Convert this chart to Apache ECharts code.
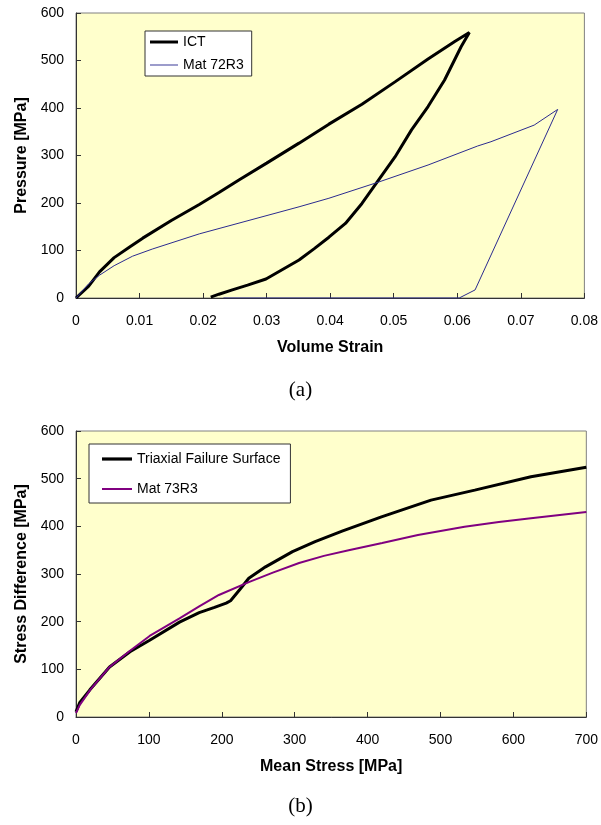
<!DOCTYPE html>
<html>
<head>
<meta charset="utf-8">
<script src="https://cdn.jsdelivr.net/npm/echarts@6/dist/echarts.min.js"></script>
<style>
html,body{margin:0;padding:0;background:#fff;}
#chart{width:601px;height:825px;}
</style>
</head>
<body>
<div id="chart"></div>
<script>
// ---- Chart (a): Pressure vs Volume Strain ----
var ictStrain   = [0, 0.002, 0.0037, 0.006, 0.0085, 0.0105, 0.015, 0.0194, 0.0225, 0.0257, 0.030, 0.0351, 0.0398, 0.045, 0.0502, 0.0554, 0.0596, 0.0619,
                   0.0606, 0.0580, 0.0554, 0.0528, 0.0502, 0.0476, 0.0450, 0.0424, 0.0398, 0.0375, 0.0351, 0.0325, 0.0299, 0.0270, 0.0246, 0.0225, 0.0212];
var ictPressure = [0, 25, 55, 85, 108, 126, 163, 197, 222, 249, 284, 326, 366, 408, 455, 503, 540, 559,
                   529, 459, 403, 354, 297, 248, 199, 157, 128, 104, 80, 60, 40, 27, 17, 8, 2];
var mat72Strain   = [0, 0.002, 0.0037, 0.006, 0.0089, 0.012, 0.0194, 0.0351, 0.0398, 0.0476, 0.0554, 0.0632, 0.0653, 0.0721, 0.0758, 0.0628, 0.0603, 0.0232];
var mat72Pressure = [0, 30, 48, 68, 88, 103, 135, 192, 210, 244, 280, 320, 329, 364, 397, 17, 0, 0];
var xTicksA = [0, 0.01, 0.02, 0.03, 0.04, 0.05, 0.06, 0.07, 0.08];
var yTicksA = [0, 100, 200, 300, 400, 500, 600];

// ---- Chart (b): Stress Difference vs Mean Stress ----
var triaxMean = [0, 5, 19, 46, 74, 101, 142, 169, 190, 206, 212, 225, 237, 260, 297, 328, 365, 419, 487, 547, 624, 700];
var triaxDiff = [11, 30, 57, 105, 137, 161, 199, 219, 230, 239, 244, 268, 291, 315, 347, 368, 390, 420, 455, 476, 504, 524];
var mat73Mean = [0, 5, 20, 46, 75, 101, 142, 169, 196, 237, 270, 306, 340, 374, 420, 469, 533, 580, 624, 700];
var mat73Diff = [8, 25, 58, 105, 140, 170, 207, 232, 256, 283, 303, 323, 338, 350, 365, 382, 399, 409, 417, 430];
var xTicksB = [0, 100, 200, 300, 400, 500, 600, 700];
var yTicksB = [0, 100, 200, 300, 400, 500, 600];

function pairs(xs, ys){ return xs.map(function(x,i){ return [x, ys[i]]; }); }

var FONT = 'Liberation Sans, Arial, sans-serif';
var axisLabelStyle = {color:'#000', fontFamily:FONT, fontSize:14};
var nameStyle = {color:'#000', fontFamily:FONT, fontSize:16, fontWeight:'bold'};

function xAxis(grid, min, max, interval, name, fmt){
  return {type:'value', gridIndex:grid, min:min, max:max, interval:interval,
    name:name, nameLocation:'middle', nameGap:42, nameTextStyle:nameStyle,
    axisLine:{show:true, onZero:false, lineStyle:{color:'#333', width:1}},
    axisTick:{show:true, inside:true, length:5, lineStyle:{color:'#333'}},
    axisLabel:Object.assign({margin:16, formatter:fmt}, axisLabelStyle),
    splitLine:{show:false}};
}
function yAxis(grid, min, max, interval, name){
  return {type:'value', gridIndex:grid, min:min, max:max, interval:interval,
    name:name, nameLocation:'middle', nameGap:46, nameRotate:90, nameTextStyle:nameStyle,
    axisLine:{show:true, onZero:false, lineStyle:{color:'#333', width:1}},
    axisTick:{show:true, inside:true, length:5, lineStyle:{color:'#333'}},
    axisLabel:Object.assign({margin:12}, axisLabelStyle),
    splitLine:{show:false}};
}
var thickIcon = 'path://M0,0L30,0L30,3.2L0,3.2Z';
var midIcon   = 'path://M0,0L30,0L30,2L0,2Z';
var thinIcon  = 'path://M0,0L30,0L30,1L0,1Z';

var chart = echarts.init(document.getElementById('chart'), null, {renderer:'canvas'});
chart.setOption({
  animation:false,
  backgroundColor:'#fff',
  grid:[
    {left:76, top:13, width:511, height:285, show:true, backgroundColor:'#FFFFCC', borderColor:'#808080', borderWidth:1},
    {left:76, top:431, width:513, height:286, show:true, backgroundColor:'#FFFFCC', borderColor:'#808080', borderWidth:1}
  ],
  xAxis:[
    xAxis(0, xTicksA[0], xTicksA[xTicksA.length-1], 0.01, 'Volume Strain', function(v){ return v===0 ? '0' : v.toFixed(2); }),
    xAxis(1, xTicksB[0], xTicksB[xTicksB.length-1], 100, 'Mean Stress [MPa]', function(v){ return String(v); })
  ],
  yAxis:[
    yAxis(0, yTicksA[0], yTicksA[yTicksA.length-1], 100, 'Pressure [MPa]'),
    yAxis(1, yTicksB[0], yTicksB[yTicksB.length-1], 100, 'Stress Difference [MPa]')
  ],
  legend:[
    {left:145, top:31, orient:'vertical', itemGap:9, itemWidth:28, itemHeight:14, symbolKeepAspect:true,
     padding:[4,8,4,5], backgroundColor:'#fff', borderColor:'#333', borderWidth:1,
     textStyle:{color:'#000', fontFamily:FONT, fontSize:14},
     data:[{name:'ICT', icon:thickIcon},{name:'Mat 72R3', icon:thinIcon}]},
    {left:89, top:444, orient:'vertical', itemGap:16, itemWidth:30, itemHeight:14, symbolKeepAspect:true,
     padding:[8,10,7,13], backgroundColor:'#fff', borderColor:'#333', borderWidth:1,
     textStyle:{color:'#000', fontFamily:FONT, fontSize:14},
     data:[{name:'Triaxial Failure Surface', icon:thickIcon},{name:'Mat 73R3', icon:midIcon}]}
  ],
  series:[
    {name:'ICT', type:'line', xAxisIndex:0, yAxisIndex:0, showSymbol:false, symbol:'none',
     lineStyle:{color:'#000', width:3}, itemStyle:{color:'#000'}, data:pairs(ictStrain, ictPressure)},
    {name:'Mat 72R3', type:'line', xAxisIndex:0, yAxisIndex:0, showSymbol:false, symbol:'none',
     lineStyle:{color:'#2B2B8F', width:1}, itemStyle:{color:'#2B2B8F'}, data:pairs(mat72Strain, mat72Pressure)},
    {name:'Triaxial Failure Surface', type:'line', xAxisIndex:1, yAxisIndex:1, showSymbol:false, symbol:'none',
     lineStyle:{color:'#000', width:3}, itemStyle:{color:'#000'}, data:pairs(triaxMean, triaxDiff)},
    {name:'Mat 73R3', type:'line', xAxisIndex:1, yAxisIndex:1, showSymbol:false, symbol:'none',
     lineStyle:{color:'#800080', width:2}, itemStyle:{color:'#800080'}, data:pairs(mat73Mean, mat73Diff)}
  ],
  graphic:[
    {type:'text', left:'center', top:380, style:{text:'(a)', fill:'#000', font:'21px "Liberation Serif", "DejaVu Serif", serif'}},
    {type:'text', left:'center', top:796, style:{text:'(b)', fill:'#000', font:'21px "Liberation Serif", "DejaVu Serif", serif'}}
  ]
});
</script>
</body>
</html>
